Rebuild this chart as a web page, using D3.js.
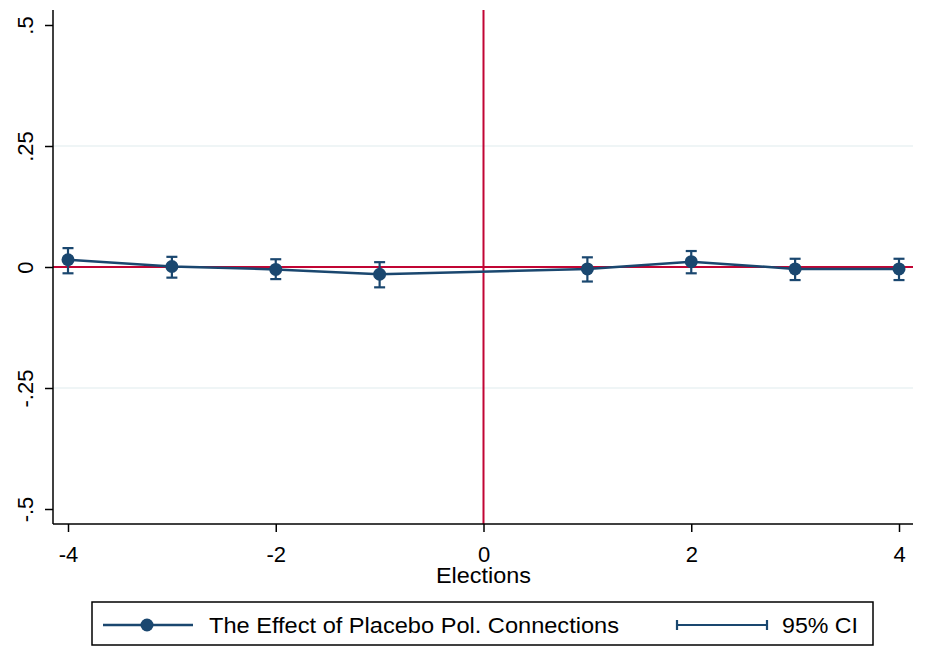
<!DOCTYPE html>
<html>
<head>
<meta charset="utf-8">
<script src="https://cdn.jsdelivr.net/npm/d3@7"></script>
<style>
  html, body { margin: 0; padding: 0; background: #fff; }
  svg { display: block; font-family: "Liberation Sans", Arial, sans-serif; }
</style>
</head>
<body>
<div id="chart"></div>
<script>
// Event-study style estimates
const elections = [-4, -3, -2, -1, 1, 2, 3, 4];
const estimates = [0.015, 0.001, -0.005, -0.015, -0.004, 0.011, -0.004, -0.004];
const ciLower = [-0.013, -0.022, -0.025, -0.042, -0.030, -0.013, -0.027, -0.027];
const ciUpper = [0.039, 0.021, 0.016, 0.010, 0.020, 0.033, 0.017, 0.017];
const xTicks = [-4, -2, 0, 2, 4];
const yTicks = [-0.5, -0.25, 0, 0.25, 0.5];
const yGrid = [-0.25, 0.25];

const COLOURS = {
  navy: '#1a476f',
  red: '#c10534',
  grid: '#eaf2f3',
  axis: '#000'
};

const width = 925;
const height = 646;
const plot = { left: 53, right: 913, top: 10, bottom: 524 };

const data = elections.map((e, i) => ({ e, v: estimates[i], lo: ciLower[i], hi: ciUpper[i] }));

const x = d3.scaleLinear().domain([-4, 4]).range([68, 899]);
const y = d3.scaleLinear().domain([-0.5, 0.5]).range([509, 25]);

// Stata-style labels: hyphen minus, no leading zero
const stataFmt = (d) => (d === 0 ? '0' : String(d).replace('0.', '.'));

const svg = d3.select('#chart').append('svg').attr('width', width).attr('height', height);

// gridlines
svg
  .append('g')
  .selectAll('line')
  .data(yGrid)
  .join('line')
  .attr('x1', plot.left)
  .attr('x2', plot.right)
  .attr('y1', (d) => y(d))
  .attr('y2', (d) => y(d))
  .attr('stroke', COLOURS.grid)
  .attr('stroke-width', 1.5);

// reference lines
svg
  .append('line')
  .attr('x1', plot.left)
  .attr('x2', plot.right)
  .attr('y1', y(0))
  .attr('y2', y(0))
  .attr('stroke', COLOURS.red)
  .attr('stroke-width', 2);

svg
  .append('line')
  .attr('x1', x(0))
  .attr('x2', x(0))
  .attr('y1', plot.top)
  .attr('y2', plot.bottom)
  .attr('stroke', COLOURS.red)
  .attr('stroke-width', 2);

// y axis
const yAxis = svg
  .append('g')
  .attr('transform', `translate(${plot.left},0)`)
  .call(d3.axisLeft(y).tickValues(yTicks).tickSize(8).tickFormat(stataFmt))
  .call((g) => g.select('.domain').remove());
yAxis.selectAll('line').attr('stroke', COLOURS.axis).attr('stroke-width', 1.5);
yAxis
  .selectAll('text')
  .attr('x', 0)
  .attr('y', 0)
  .attr('dy', 0)
  .attr('text-anchor', 'middle')
  .attr('transform', 'translate(-20,0) rotate(-90)')
  .attr('fill', COLOURS.axis)
  .style('font-size', '22px');

// x axis
const xAxis = svg
  .append('g')
  .attr('transform', `translate(0,${plot.bottom})`)
  .call(d3.axisBottom(x).tickValues(xTicks).tickSize(8).tickPadding(14).tickFormat(stataFmt))
  .call((g) => g.select('.domain').remove());
xAxis.selectAll('line').attr('stroke', COLOURS.axis).attr('stroke-width', 1.5);
xAxis.selectAll('text').attr('fill', COLOURS.axis).style('font-size', '22px');

// axis lines
svg
  .append('line')
  .attr('x1', plot.left)
  .attr('x2', plot.left)
  .attr('y1', plot.top)
  .attr('y2', plot.bottom)
  .attr('stroke', COLOURS.axis)
  .attr('stroke-width', 1.5);
svg
  .append('line')
  .attr('x1', plot.left)
  .attr('x2', plot.right)
  .attr('y1', plot.bottom)
  .attr('y2', plot.bottom)
  .attr('stroke', COLOURS.axis)
  .attr('stroke-width', 1.5);

svg
  .append('text')
  .attr('x', x(0))
  .attr('y', 583)
  .attr('text-anchor', 'middle')
  .attr('textLength', 95)
  .attr('lengthAdjust', 'spacingAndGlyphs')
  .style('font-size', '22px')
  .text('Elections');

// estimate line
svg
  .append('path')
  .datum(data)
  .attr('fill', 'none')
  .attr('stroke', COLOURS.navy)
  .attr('stroke-width', 2.5)
  .attr('d', d3.line().x((d) => x(d.e)).y((d) => y(d.v)));

// confidence intervals
const ci = svg.append('g').attr('stroke', COLOURS.navy).attr('stroke-width', 2.2);
ci.selectAll('line.ci')
  .data(data)
  .join('line')
  .attr('class', 'ci')
  .attr('x1', (d) => x(d.e))
  .attr('x2', (d) => x(d.e))
  .attr('y1', (d) => y(d.lo))
  .attr('y2', (d) => y(d.hi));
ci.selectAll('line.cap-hi')
  .data(data)
  .join('line')
  .attr('class', 'cap-hi')
  .attr('x1', (d) => x(d.e) - 5.5)
  .attr('x2', (d) => x(d.e) + 5.5)
  .attr('y1', (d) => y(d.hi))
  .attr('y2', (d) => y(d.hi));
ci.selectAll('line.cap-lo')
  .data(data)
  .join('line')
  .attr('class', 'cap-lo')
  .attr('x1', (d) => x(d.e) - 5.5)
  .attr('x2', (d) => x(d.e) + 5.5)
  .attr('y1', (d) => y(d.lo))
  .attr('y2', (d) => y(d.lo));

svg
  .append('g')
  .selectAll('circle')
  .data(data)
  .join('circle')
  .attr('cx', (d) => x(d.e))
  .attr('cy', (d) => y(d.v))
  .attr('r', 6.5)
  .attr('fill', COLOURS.navy);

// legend
const legend = svg.append('g');
legend
  .append('rect')
  .attr('x', 92)
  .attr('y', 602)
  .attr('width', 781)
  .attr('height', 43)
  .attr('fill', '#fff')
  .attr('stroke', COLOURS.axis)
  .attr('stroke-width', 1.5);
legend
  .append('line')
  .attr('x1', 103)
  .attr('x2', 193)
  .attr('y1', 625)
  .attr('y2', 625)
  .attr('stroke', COLOURS.navy)
  .attr('stroke-width', 2.5);
legend.append('circle').attr('cx', 147).attr('cy', 625).attr('r', 6.5).attr('fill', COLOURS.navy);
legend
  .append('text')
  .attr('x', 209)
  .attr('y', 633)
  .attr('textLength', 410)
  .attr('lengthAdjust', 'spacingAndGlyphs')
  .style('font-size', '22px')
  .text('The Effect of Placebo Pol. Connections');
const lg = legend.append('g').attr('stroke', COLOURS.navy).attr('stroke-width', 2.2);
lg.append('line').attr('x1', 677).attr('x2', 767).attr('y1', 625).attr('y2', 625);
lg.append('line').attr('x1', 677).attr('x2', 677).attr('y1', 620).attr('y2', 630);
lg.append('line').attr('x1', 767).attr('x2', 767).attr('y1', 620).attr('y2', 630);
legend
  .append('text')
  .attr('x', 782)
  .attr('y', 633)
  .attr('textLength', 76)
  .attr('lengthAdjust', 'spacingAndGlyphs')
  .style('font-size', '22px')
  .text('95% CI');
</script>
</body>
</html>
